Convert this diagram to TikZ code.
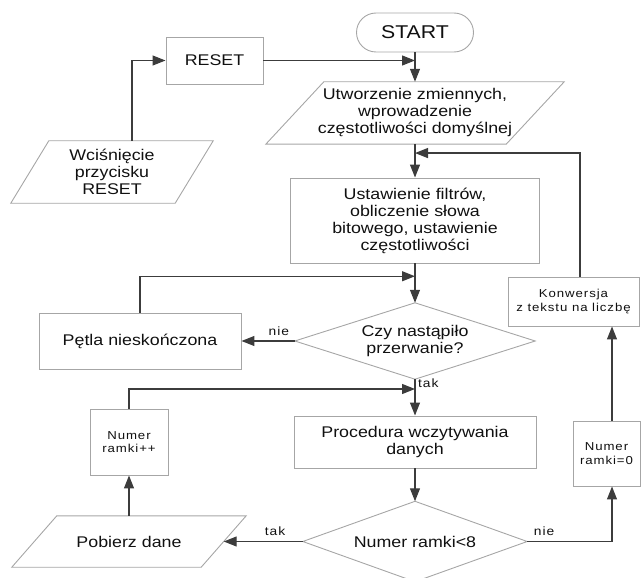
\documentclass[tikz,border=0pt]{standalone}
\usepackage{fontspec}
\setmainfont{Liberation Sans}[FakeStretch=1.15]
\newfontfamily\smallf{Liberation Sans}[FakeStretch=1.15,LetterSpace=8]
\usetikzlibrary{arrows.meta,calc}
\definecolor{border}{HTML}{A6A6A6}
\definecolor{conn}{HTML}{3C3C3C}
\definecolor{txt}{HTML}{101010}
\tikzset{
  every node/.style={text=txt},
  bigtext/.style={font=\fontsize{15.5}{17}\selectfont, align=center},
  smalltext/.style={font=\smallf\fontsize{11.5}{13.5}\selectfont, align=center},
  procbox/.style={draw=border, line width=0.9pt, rectangle, inner sep=0pt},
  termbox/.style={draw=border, line width=0.9pt, rectangle, rounded corners=19.5pt, inner sep=0pt},
  shapeholder/.style={rectangle, inner sep=0pt},
  outline/.style={draw=border, line width=0.9pt},
  arr/.style={draw=conn, line width=1.2pt, -{Triangle[length=13pt,width=10pt]}},
  lbl/.style={font=\smallf\fontsize{12}{13}\selectfont, inner sep=0pt},
}
\begin{document}
\begin{tikzpicture}[x=1pt,y=-1pt]
\useasboundingbox (0,0) rectangle (641,578);

% nodes
\node[termbox, font=\fontsize{18.5}{20}\selectfont, minimum width=117pt, minimum height=39pt] (start) at (415,32.5) {START};
\node[procbox, bigtext, minimum width=97pt, minimum height=47pt] (reset) at (214.5,60.5) {RESET};
\node[shapeholder, bigtext, minimum width=202pt, minimum height=62pt] (wc) at (112,172) {Wciśnięcie\\przycisku\\RESET};
\node[shapeholder, bigtext, minimum width=298pt, minimum height=62pt] (utw) at (415,113) {Utworzenie zmiennych,\\wprowadzenie\\częstotliwości domyślnej};
\node[procbox, bigtext, minimum width=249pt, minimum height=85pt] (ust) at (415,220.5) {Ustawienie filtrów,\\obliczenie słowa\\bitowego, ustawienie\\częstotliwości};
\node[shapeholder, bigtext, minimum width=240pt, minimum height=76pt] (czy) at (415,341) {Czy nastąpiło\\przerwanie?};
\node[procbox, bigtext, minimum width=202pt, minimum height=56pt] (pet) at (140,341) {Pętla nieskończona};
\node[procbox, smalltext, minimum width=78pt, minimum height=66pt] (nump) at (129,442) {Numer\\ramki++};
\node[procbox, bigtext, minimum width=242pt, minimum height=52pt] (proc) at (415,442) {Procedura wczytywania\\danych};
\node[shapeholder, bigtext, minimum width=224pt, minimum height=80pt] (dec) at (415,541.5) {Numer ramki<8};
\node[shapeholder, bigtext, minimum width=234pt, minimum height=51pt] (pob) at (129,541.5) {Pobierz dane};
\node[procbox, smalltext, minimum width=67pt, minimum height=65pt] (numz) at (606.5,453.5) {Numer\\ramki=0};
\node[procbox, smalltext, minimum width=131pt, minimum height=49pt] (konw) at (573.5,301.5) {Konwersja\\z tekstu na liczbę};

% outlines of parallelograms and diamonds
\draw[outline] (wc.south west) -- ([xshift=38pt]wc.north west) -- (wc.north east) -- ([xshift=-38pt]wc.south east) -- cycle;
\draw[outline] (utw.south west) -- ([xshift=58pt]utw.north west) -- (utw.north east) -- ([xshift=-58pt]utw.south east) -- cycle;
\draw[outline] (pob.south west) -- ([xshift=45pt]pob.north west) -- (pob.north east) -- ([xshift=-45pt]pob.south east) -- cycle;
\draw[outline] (czy.north) -- (czy.east) -- (czy.south) -- (czy.west) -- cycle;
\draw[outline] (dec.north) -- (dec.east) -- (dec.south) -- (dec.west) -- cycle;

% connectors
\draw[arr] ([xshift=20pt]wc.north) |- (reset.west);
\draw[arr] (reset.east) -- (reset.east -| start.south);
\draw[arr] (start.south) -- (utw.north);
\draw[arr] (utw.south) -- (ust.north);
\coordinate (j1) at ($(utw.south)!0.265!(ust.north)$);
\draw[arr] ([xshift=6.5pt]konw.north) |- (j1);
\draw[arr] (ust.south) -- (czy.north);
\coordinate (j2) at ($(ust.south)!0.325!(czy.north)$);
\draw[arr] (pet.north) |- (j2);
\draw[arr] (czy.west) -- node[lbl, above=5pt, pos=0.3] {nie} (pet.east);
\draw[arr] (czy.south) -- (proc.north);
\node[lbl, anchor=west] (taklbl) at ([xshift=3pt,yshift=-4pt]czy.south) {tak};
\coordinate (j3) at ($(czy.south)!0.27!(proc.north)$);
\draw[arr] (nump.north) |- (j3);
\draw[arr] (proc.south) -- (dec.north);
\draw[arr] (dec.west) -- node[lbl, above=5pt, pos=0.35] {tak} ([xshift=-22.5pt]pob.east);
\draw[arr] (pob.north) -- (nump.south);
\draw[arr] (dec.east) -| node[lbl, above=5pt, pos=0.1] {nie} ([xshift=5.5pt]numz.south);
\draw[arr] ([xshift=5.5pt]numz.north) -- ([xshift=5.5pt]numz.north |- konw.south);
\end{tikzpicture}
\end{document}
